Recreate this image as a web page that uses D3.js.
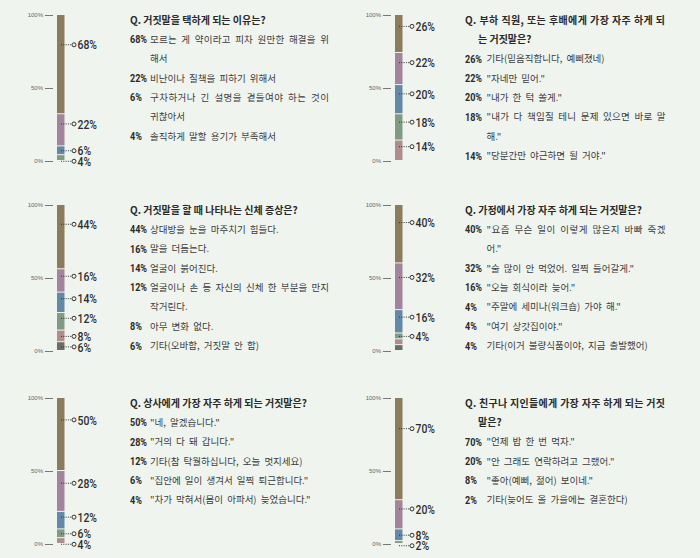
<!DOCTYPE html>
<html>
<head>
<meta charset="utf-8">
<script src="https://cdn.jsdelivr.net/npm/d3@7.9.0/dist/d3.min.js"></script>
<style>
  html, body { margin: 0; padding: 0; background: #eff4ef; }
  svg { display: block; }
  .tick text { font-family: "Liberation Sans", sans-serif; font-size: 6px; fill: #666; }
  .tick line { stroke: #777; }
</style>
</head>
<body>
<svg id="chart" width="700" height="558"></svg>
<script>
// survey panels
const titles = [
  'Q. 거짓말을 택하게 되는 이유는?',
  'Q. 부하 직원, 또는 후배에게 가장 자주 하게 되\n는 거짓말은?',
  'Q. 거짓말을 할 때 나타나는 신체 증상은?',
  'Q. 가정에서 가장 자주 하게 되는 거짓말은?',
  'Q. 상사에게 가장 자주 하게 되는 거짓말은?',
  'Q. 친구나 지인들에게 가장 자주 하게 되는 거짓\n말은?'
];

const values = [
  [68, 22, 6, 4],
  [26, 22, 20, 18, 14],
  [44, 16, 14, 12, 8, 6],
  [40, 32, 16, 4, 4, 4],
  [50, 28, 12, 6, 4],
  [70, 20, 8, 2]
];

const answers = [
  ['모르는 게 약이라고 피차 원만한 해결을 위\n해서', '비난이나 질책을 피하기 위해서',
   '구차하거나 긴 설명을 곁들여야 하는 것이\n귀찮아서', '솔직하게 말할 용기가 부족해서'],
  ['기타(믿음직합니다, 예뻐졌네)', '"자네만 믿어."', '"내가 한 턱 쏠게."',
   '"내가 다 책임질 테니 문제 있으면 바로 말\n해."', '"당분간만 야근하면 될 거야."'],
  ['상대방을 눈을 마주치기 힘들다.', '말을 더듬는다.', '얼굴이 붉어진다.',
   '얼굴이나 손 등 자신의 신체 한 부분을 만지\n작거린다.', '아무 변화 없다.', '기타(오바함, 거짓말 안 함)'],
  ['"요즘 무슨 일이 이렇게 많은지 바빠 죽겠\n어."', '"술 많이 안 먹었어. 일찍 들어갈게."',
   '"오늘 회식이라 늦어."', '"주말에 세미나(워크숍) 가야 해."', '"여기 상갓집이야."',
   '기타(이거 불량식품이야, 지금 출발했어)'],
  ['"네, 알겠습니다."', '"거의 다 돼 갑니다."', '기타(참 탁월하십니다, 오늘 멋지세요)',
   '"집안에 일이 생겨서 일찍 퇴근합니다."', '"차가 막혀서(몸이 아파서) 늦었습니다."'],
  ['"언제 밥 한 번 먹자."', '"안 그래도 연락하려고 그랬어."', '"좋아(예뻐, 젊어) 보이네."',
   '기타(늦어도 올 가을에는 결혼한다)']
];

const axisTicks = [0, 50, 100];
const segColors = ['#8c7b5c', '#a3849c', '#6489a6', '#819b83', '#b08d8d', '#6e6c68'];

const svg = d3.select('#chart');
svg.append('rect').attr('width', 700).attr('height', 558).attr('fill', '#eff4ef');

const colBar = [57, 395];
const colText = [130, 465];
const rowTop = [15, 205, 398];
const barH = 146, barW = 7.5, lineStep = 19.4;
const kr = '"Noto Sans CJK KR", sans-serif';

values.forEach((vals, i) => {
  const col = i % 2, row = Math.floor(i / 2);
  const bx = colBar[col], top = rowTop[row];
  const g = svg.append('g');

  const y = d3.scaleLinear().domain([0, 100]).range([top + barH, top]);

  g.append('g')
    .attr('transform', `translate(${bx - 4},0)`)
    .call(d3.axisLeft(y).tickValues(axisTicks).tickFormat(d => d + '%').tickSize(8).tickPadding(2))
    .call(a => a.select('.domain').remove());

  const cum = [0, ...d3.cumsum(vals)];
  const segs = vals.map((v, k) => ({
    v, k,
    y0: y(100 - cum[k]),
    y1: y(100 - cum[k + 1])
  }));

  g.selectAll('rect.seg')
    .data(segs)
    .join('rect')
    .attr('class', 'seg')
    .attr('x', bx)
    .attr('width', barW)
    .attr('y', d => d.y0)
    .attr('height', d => Math.max(0.8, d.y1 - d.y0 - 1))
    .attr('fill', d => segColors[d.k]);

  // labels: one per run of equal values
  let lastY = -100;
  const labs = segs.filter((d, k) => k === 0 || d.v !== vals[k - 1]).map(d => {
    const h = d.y1 - d.y0;
    let ly = h < 14 ? d.y0 + h / 2 : d.y0 + h * 0.3;
    ly = Math.max(ly, lastY + 10.5);
    lastY = ly;
    return { v: d.v, ly };
  });

  const lab = g.selectAll('g.lab').data(labs).join('g').attr('class', 'lab');
  lab.append('line')
    .attr('x1', bx + 4).attr('x2', bx + 15)
    .attr('y1', d => d.ly).attr('y2', d => d.ly)
    .attr('stroke', '#333').attr('stroke-width', 1).attr('stroke-dasharray', '1,1.3');
  lab.append('circle')
    .attr('cx', bx + 17).attr('cy', d => d.ly).attr('r', 2)
    .attr('fill', '#eff4ef').attr('stroke', '#333').attr('stroke-width', 1);
  lab.append('text')
    .attr('transform', d => `translate(${bx + 20.5},${d.ly}) scale(0.8,1)`)
    .attr('dy', '0.36em')
    .style('font-family', 'Roboto, sans-serif')
    .style('font-size', '13px').style('font-weight', 500)
    .attr('fill', '#2e2e2e')
    .text(d => d.v + '%');

  // question and answer list
  const tx = colText[col];
  let ty = top + 5;
  const tLines = titles[i].split('\n');
  tLines.forEach((t, j) => {
    const tt = g.append('text')
      .attr('x', j === 0 ? tx : tx + 13).attr('y', ty).attr('dy', '0.36em')
      .style('font-family', kr)
      .style('font-size', '10px').style('font-weight', 700)
      .attr('fill', '#2a2a2a')
      .text(t);
    if (j < tLines.length - 1) tt.attr('textLength', 200).attr('lengthAdjust', 'spacing');
    ty += lineStep;
  });

  answers[i].forEach((a, k) => {
    g.append('text')
      .attr('transform', `translate(${tx},${ty}) scale(0.86,1)`)
      .attr('dy', '0.36em')
      .style('font-family', 'Roboto, sans-serif')
      .style('font-size', '10.5px').style('font-weight', 700)
      .attr('fill', '#2a2a2a')
      .text(vals[k] + '%');
    const parts = a.split('\n');
    parts.forEach((line, j) => {
      const t = g.append('text')
        .attr('x', tx + (col === 0 ? 20 : 21.5)).attr('y', ty).attr('dy', '0.36em')
        .style('font-family', kr)
        .style('font-size', '9.5px')
        .style('word-spacing', '2px')
        .attr('fill', '#3c3c3c')
        .text(line);
      if (j < parts.length - 1) t.attr('textLength', 179).attr('lengthAdjust', 'spacing');
      ty += lineStep;
    });
  });
});
</script>
</body>
</html>
